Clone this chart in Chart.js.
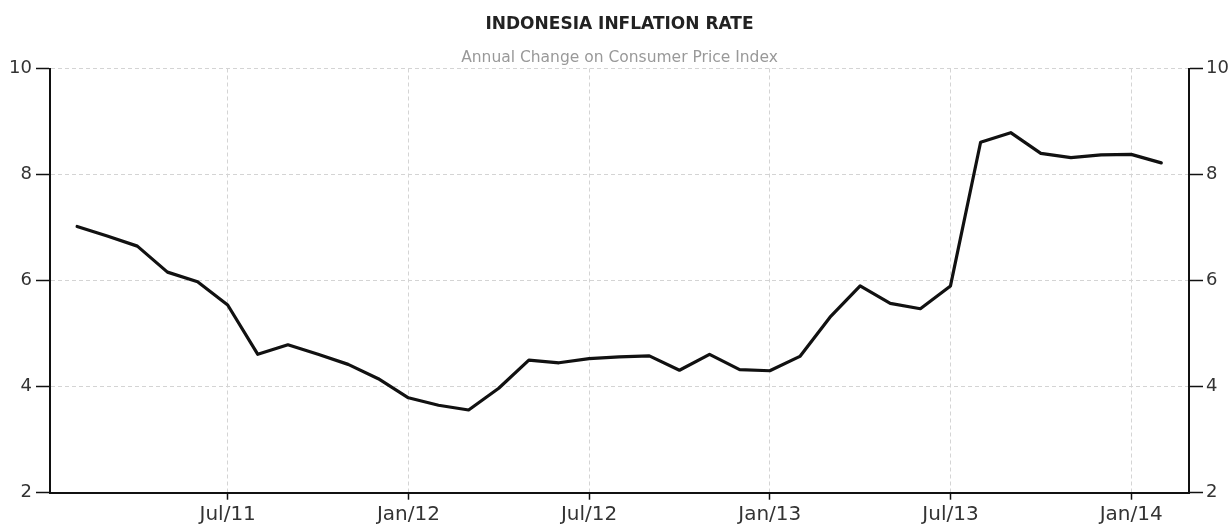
<!DOCTYPE html>
<html><head><meta charset="utf-8">
<script src="https://cdn.jsdelivr.net/npm/chart.js@4.4.1/dist/chart.umd.min.js"></script>
<style>html,body{margin:0;padding:0;background:#fff;} canvas{display:block;}</style>
</head><body>
<canvas id="c" width="1232" height="527"></canvas>
<script>
// Monthly observations, Jan 2011 .. Jan 2014 (plotted at month end)
const months = [
  'Jan 2011','Feb 2011','Mar 2011','Apr 2011','May 2011','Jun 2011','Jul 2011','Aug 2011','Sep 2011','Oct 2011','Nov 2011','Dec 2011',
  'Jan 2012','Feb 2012','Mar 2012','Apr 2012','May 2012','Jun 2012','Jul 2012','Aug 2012','Sep 2012','Oct 2012','Nov 2012','Dec 2012',
  'Jan 2013','Feb 2013','Mar 2013','Apr 2013','May 2013','Jun 2013','Jul 2013','Aug 2013','Sep 2013','Oct 2013','Nov 2013','Dec 2013',
  'Jan 2014'
];
const inflation = [
  7.02, 6.84, 6.65, 6.16, 5.98, 5.54, 4.61, 4.79, 4.61, 4.42, 4.15, 3.79,
  3.65, 3.56, 3.97, 4.50, 4.45, 4.53, 4.56, 4.58, 4.31, 4.61, 4.32, 4.30,
  4.57, 5.31, 5.90, 5.57, 5.47, 5.90, 8.61, 8.79, 8.40, 8.32, 8.37, 8.38,
  8.22
];
// x-axis tick labels and the month (counted from Jan 2011 start) where each sits
const tickLabels = ['Jul/11', 'Jan/12', 'Jul/12', 'Jan/13', 'Jul/13', 'Jan/14'];
const tickMonths = [6, 12, 18, 24, 30, 36];
const yTicks = [2, 4, 6, 8, 10];

const points = inflation.map((v, i) => ({ x: i + 1, y: v }));
const family = "'DejaVu Sans', sans-serif";
const gridGray = '#d4d4d4';

function yScale(position, width, pad) {
  return {
    type: 'linear', position, min: 2, max: 10,
    afterBuildTicks(axis) { axis.ticks = yTicks.map(v => ({ value: v })); },
    afterFit(axis) { axis.width = width; },
    ticks: { color: '#333', font: { family, size: 18 }, padding: pad },
    grid: {
      drawOnChartArea: position === 'left',
      color: c => (c.tick && c.tick.value === 2) ? 'rgba(0,0,0,0)' : gridGray,
      lineWidth: 1, tickColor: '#111', tickLength: 14, tickWidth: 1.5
    },
    border: { display: true, color: '#111', width: 2, dash: [4, 3] }
  };
}

new Chart(document.getElementById('c'), {
  type: 'line',
  data: { datasets: [{
    label: 'Inflation', data: points, borderColor: '#111', borderWidth: 3.2,
    pointRadius: 0, tension: 0, fill: false, borderJoinStyle: 'round', borderCapStyle: 'round'
  }] },
  options: {
    responsive: false, animation: false, devicePixelRatio: 1,
    layout: { padding: 0 },
    plugins: {
      legend: { display: false }, tooltip: { enabled: false },
      title: { display: true, text: 'INDONESIA INFLATION RATE', color: '#222',
        font: { family, size: 17, weight: 'bold', lineHeight: 1.2 },
        padding: { top: 14.8, bottom: 13 }, fullSize: false },
      subtitle: { display: true, text: 'Annual Change on Consumer Price Index', color: '#999',
        font: { family, size: 15.5, weight: 'normal', lineHeight: 1.2 },
        padding: { top: 0, bottom: 1.7 }, fullSize: false }
    },
    scales: {
      x: {
        type: 'linear', min: 0.1, max: 37.92,
        afterBuildTicks(axis) { axis.ticks = tickMonths.map(v => ({ value: v })); },
        afterFit(axis) { axis.height = 34.3; },
        ticks: {
          callback(v) { const i = tickMonths.indexOf(v); return i >= 0 ? tickLabels[i] : ''; },
          color: '#333', font: { family, size: 20 }, padding: 3, maxRotation: 0, autoSkip: false
        },
        grid: { color: gridGray, lineWidth: 1, tickColor: '#111', tickLength: 7, tickWidth: 1.5 },
        border: { display: true, color: '#111', width: 2, dash: [4, 3] }
      },
      y: yScale('left', 50, 4),
      y2: yScale('right', 43, 3)
    }
  }
});
</script>
</body></html>
